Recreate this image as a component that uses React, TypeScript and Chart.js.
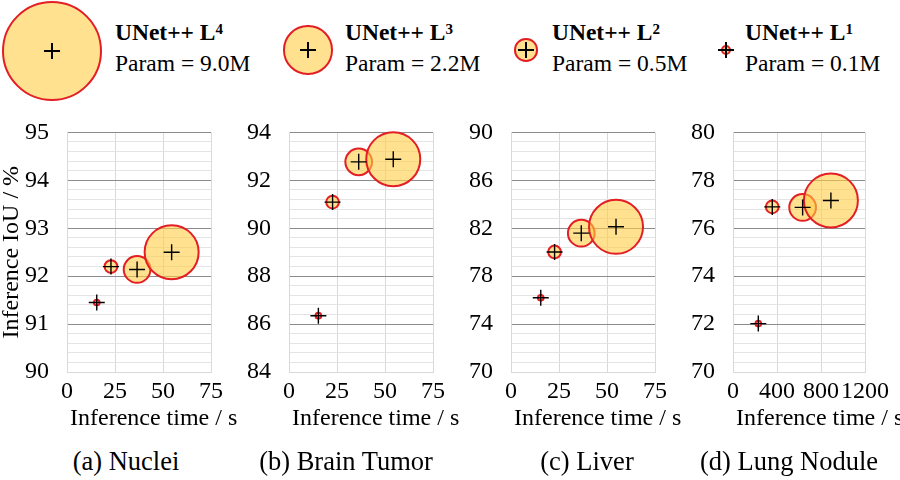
import React, { useEffect, useRef } from 'react';
import { Chart, registerables } from 'chart.js';

Chart.register(...registerables);

// ---------------- data ----------------
const levels = [1, 2, 3, 4];
const paramsM = [0.1, 0.5, 2.2, 9.0];
const panelCaptions = ['(a) Nuclei', '(b) Brain Tumor', '(c) Liver', '(d) Lung Nodule'];
const nucleiTime = [15.5, 22.9, 36.5, 54.5];
const nucleiIoU = [91.45, 92.2, 92.14, 92.5];
const brainTumorTime = [15.3, 22.7, 36.3, 54.3];
const brainTumorIoU = [86.35, 91.09, 92.77, 92.88];
const liverTime = [15.5, 22.7, 36.6, 54.7];
const liverIoU = [76.2, 80.02, 81.59, 82.12];
const lungNoduleTime = [230, 357, 633, 890];
const lungNoduleIoU = [72.02, 76.89, 76.87, 77.16];
const xMaxes = [75, 75, 75, 1200];
const xSteps = [25, 25, 25, 400];
const yMins = [90, 84, 70, 70];
const yMaxes = [95, 94, 90, 80];
const yMajorSteps = [1, 2, 4, 2];
const xTitle = 'Inference time / s';
const yTitle = 'Inference IoU / %';

const panelTimes = [nucleiTime, brainTumorTime, liverTime, lungNoduleTime];
const panelIoUs = [nucleiIoU, brainTumorIoU, liverIoU, lungNoduleIoU];

// ---------------- layout / style ----------------
const FONT = '"Liberation Serif", "Times New Roman", Times, serif';
const TICK_FONT = { family: FONT, size: 24 };
const RED = '#E31E24';
const FILL = 'rgba(255, 205, 70, 0.6)';
const PLOT_TOP = 120;
const PLOT_BOTTOM = 372;
const CANVAS_TOP = 100;
const CANVAS_BOTTOM = 440;
const AXIS_W = 67;
const plotLefts = [67, 289, 511, 733];
const plotRights = [211, 433, 655, 865];
const captionCenters = [126, 346, 587, 789];
const PLOT_K = 9; // bubble radius per sqrt(M params)
const LEGEND_K = 16.7;
const CROSS_R = 8;
const legendCenters = [
  [726, 50],
  [526, 50],
  [308, 50],
  [52, 51],
];
const legendTextLefts = [745, 552, 345, 115];

function Panel({ i }: { i: number }) {
  const ref = useRef<HTMLCanvasElement>(null);
  const left = plotLefts[i] - AXIS_W;
  const width = Math.min(240, 900 - left);
  const height = CANVAS_BOTTOM - CANVAS_TOP;

  useEffect(() => {
    const times = panelTimes[i];
    const ious = panelIoUs[i];
    const major = yMajorSteps[i];
    const minor = major / 5;
    const yMin = yMins[i];
    const isMajor = (v: number) => {
      const q = (v - yMin) / major;
      return Math.abs(q - Math.round(q)) < 1e-6;
    };
    const chart = new Chart(ref.current as HTMLCanvasElement, {
      type: 'bubble',
      data: {
        datasets: [
          {
            data: times.map((t, k) => ({ x: t, y: ious[k] })),
            radius: CROSS_R,
            pointStyle: 'cross',
            borderColor: '#000',
            borderWidth: 1.4,
            backgroundColor: 'rgba(0,0,0,0)',
            order: 0,
            clip: false,
          } as any,
          {
            data: times.map((t, k) => ({ x: t, y: ious[k], r: PLOT_K * Math.sqrt(paramsM[k]) })),
            backgroundColor: FILL,
            borderColor: RED,
            borderWidth: 2,
            order: 1,
            clip: false,
          } as any,
        ],
      },
      options: {
        responsive: false,
        animation: false,
        events: [],
        layout: {
          padding: { left: 0, top: PLOT_TOP - CANVAS_TOP, right: left + width - plotRights[i], bottom: 0 },
        },
        plugins: { legend: { display: false }, tooltip: { enabled: false } },
        scales: {
          x: {
            type: 'linear',
            min: 0,
            max: xMaxes[i],
            ticks: {
              stepSize: xSteps[i],
              autoSkip: false,
              maxRotation: 0,
              minRotation: 0,
              padding: 5,
              color: '#000',
              font: TICK_FONT,
              callback: (v: any) => String(Math.round(Number(v))),
            },
            grid: { color: '#d9d9d9', lineWidth: 1, drawTicks: false },
            border: { color: '#d9d9d9', width: 1 },
            afterFit: (s: any) => {
              s.height = CANVAS_BOTTOM - PLOT_BOTTOM;
            },
          },
          y: {
            type: 'linear',
            min: yMin,
            max: yMaxes[i],
            ticks: {
              stepSize: minor,
              autoSkip: false,
              padding: 18,
              color: '#000',
              font: TICK_FONT,
              callback: (v: any) => (isMajor(Number(v)) ? String(Math.round(Number(v))) : ''),
            },
            grid: {
              drawTicks: false,
              lineWidth: 1,
              color: (ctx: any) => {
                const v = ctx.tick ? ctx.tick.value : 0;
                if (Math.abs(v - yMin) < 1e-6) return '#d9d9d9';
                return isMajor(v) ? '#8c8c8c' : '#e4e4e4';
              },
            },
            border: { color: '#d9d9d9', width: 1 },
            title: {
              display: i === 0,
              text: yTitle,
              color: '#000',
              font: { family: FONT, size: 24, lineHeight: 1 },
              padding: { top: 0, bottom: 0 },
            },
            afterFit: (s: any) => {
              s.width = AXIS_W;
            },
          },
        },
      } as any,
    });
    return () => chart.destroy();
  }, [i]);

  return (
    <canvas
      ref={ref}
      width={width}
      height={height}
      style={{ position: 'absolute', left, top: CANVAS_TOP, width, height }}
    />
  );
}

function Legend() {
  return (
    <>
      {levels.map((lv, k) => {
        const [cx, cy] = legendCenters[k];
        const r = LEGEND_K * Math.sqrt(paramsM[k]);
        return (
          <React.Fragment key={lv}>
            <div
              style={{
                position: 'absolute',
                left: cx - r,
                top: cy - r,
                width: 2 * r,
                height: 2 * r,
                boxSizing: 'border-box',
                borderRadius: '50%',
                border: `2px solid ${RED}`,
                background: FILL,
              }}
            />
            <div style={{ position: 'absolute', left: cx - CROSS_R, top: cy - 0.7, width: 2 * CROSS_R, height: 1.4, background: '#000' }} />
            <div style={{ position: 'absolute', left: cx - 0.7, top: cy - CROSS_R, width: 1.4, height: 2 * CROSS_R, background: '#000' }} />
            <div
              style={{
                position: 'absolute',
                left: legendTextLefts[k],
                top: 18,
                fontFamily: FONT,
                fontSize: 23.5,
                lineHeight: '28px',
                color: '#000',
                whiteSpace: 'nowrap',
              }}
            >
              <div style={{ fontWeight: 700 }}>
                UNet++ L
                <span style={{ fontSize: 15, position: 'relative', top: -6 }}>{lv}</span>
              </div>
              <div>Param = {paramsM[k].toFixed(1)}M</div>
            </div>
          </React.Fragment>
        );
      })}
    </>
  );
}

export default function App() {
  return (
    <div
      style={{
        position: 'absolute',
        left: 0,
        top: 0,
        width: 900,
        height: 480,
        background: '#fff',
        overflow: 'hidden',
      }}
    >
      <Legend />
      {[0, 1, 2, 3].map((i) => (
        <Panel key={i} i={i} />
      ))}
      {[0, 1, 2, 3].map((i) => (
        <div
          key={'xt' + i}
          style={{
            position: 'absolute',
            left: plotLefts[i] + 3,
            top: 405,
            fontFamily: FONT,
            fontSize: 24,
            lineHeight: '24px',
            color: '#000',
            whiteSpace: 'nowrap',
          }}
        >
          {xTitle}
        </div>
      ))}
      {panelCaptions.map((c, i) => (
        <div
          key={'cap' + i}
          style={{
            position: 'absolute',
            left: captionCenters[i],
            top: 448,
            transform: 'translateX(-50%)',
            fontFamily: FONT,
            fontSize: 26.5,
            lineHeight: '26px',
            color: '#000',
            whiteSpace: 'nowrap',
          }}
        >
          {c}
        </div>
      ))}
    </div>
  );
}
